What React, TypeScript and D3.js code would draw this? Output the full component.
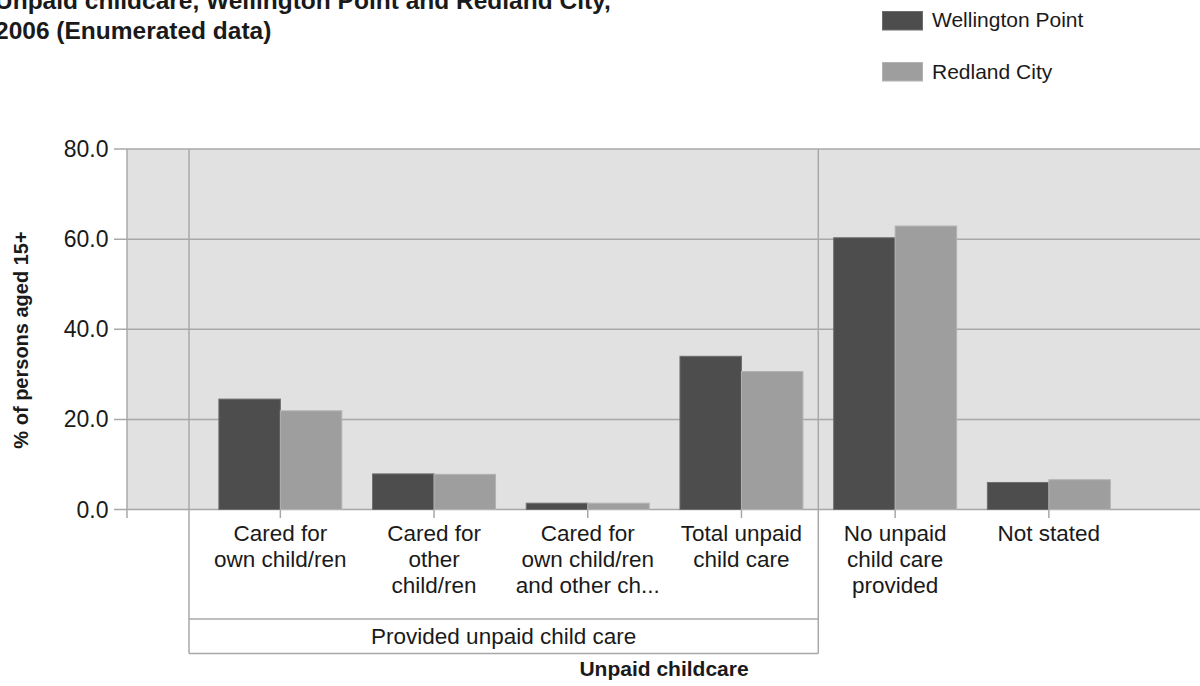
import React from "react";
import * as d3 from "d3";

const categories = [
  "Cared for own child/ren",
  "Cared for other child/ren",
  "Cared for own child/ren and other ch...",
  "Total unpaid child care",
  "No unpaid child care provided",
  "Not stated",
];
const categoryLines = [
  ["Cared for", "own child/ren"],
  ["Cared for", "other", "child/ren"],
  ["Cared for", "own child/ren", "and other ch..."],
  ["Total unpaid", "child care"],
  ["No unpaid", "child care", "provided"],
  ["Not stated"],
];
const seriesNames = ["Wellington Point", "Redland City"];
const wellingtonPoint = [24.5, 7.9, 1.4, 34.0, 60.3, 6.0];
const redlandCity = [21.9, 7.8, 1.4, 30.6, 62.9, 6.6];
const yTicks = [0, 20, 40, 60, 80];
const groupLabel = "Provided unpaid child care";
const groupCount = 4;

const W = 1200;
const H = 686;
const plotLeft = 127;
const plotRight = 1200;
const plotTop = 149;
const plotBottom = 509.5;
const groupLeft = 189;
const FONT = "'Liberation Sans', Arial, Helvetica, sans-serif";
const colors = ["#4d4d4d", "#9e9e9e"];
const strokes = ["#6e6e6e", "#b2b2b2"];
const gridColor = "#a8a8a8";
const textColor = "#1a1a1a";

export default function App() {
  const y = d3.scaleLinear().domain([0, 80]).range([plotBottom, plotTop]);
  const x = d3
    .scaleBand<string>()
    .domain(categories)
    .range([203.5, 1125.7])
    .paddingInner(0.2)
    .paddingOuter(0.1);
  const xs = d3
    .scaleBand<string>()
    .domain(seriesNames)
    .range([0, x.bandwidth()]);
  const series = [wellingtonPoint, redlandCity];
  const center = (c: string) => (x(c) as number) + x.bandwidth() / 2;
  const lastGroup = categories[groupCount - 1];
  const firstOther = categories[groupCount];
  const sepX = ((x(lastGroup) as number) + x.bandwidth() + (x(firstOther) as number)) / 2;
  const boxTop = 619;
  const boxBottom = 653.5;

  return (
    <svg
      width={W}
      height={H}
      style={{ position: "absolute", left: 0, top: 0, background: "#fff" }}
      fontFamily={FONT}
    >
      {/* Title */}
      <text x={-5} y={9} fontSize={24.5} fontWeight="bold" fill={textColor}>
        Unpaid childcare, Wellington Point and Redland City,
      </text>
      <text x={-5} y={39} fontSize={24.5} fontWeight="bold" fill={textColor}>
        2006 (Enumerated data)
      </text>

      {/* Legend */}
      {seriesNames.map((s, i) => (
        <g key={s}>
          <rect
            x={882.5}
            y={11.5 + i * 51}
            width={40}
            height={18.5}
            fill={colors[i]}
            stroke={strokes[i]}
          />
          <text x={932} y={27 + i * 51.5} fontSize={21} fill={textColor}>
            {s}
          </text>
        </g>
      ))}

      {/* Plot background */}
      <rect
        x={plotLeft}
        y={plotTop}
        width={plotRight - plotLeft}
        height={plotBottom - plotTop}
        fill="#e1e1e1"
      />

      {/* Gridlines & y ticks */}
      {yTicks.map((t) => (
        <g key={t}>
          <line
            x1={114}
            x2={plotRight}
            y1={y(t)}
            y2={y(t)}
            stroke={gridColor}
            strokeWidth={1.5}
          />
          <text
            x={108.5}
            y={y(t) + 8}
            fontSize={23}
            textAnchor="end"
            fill={textColor}
          >
            {t.toFixed(1)}
          </text>
        </g>
      ))}

      {/* Vertical lines */}
      <line x1={plotLeft} x2={plotLeft} y1={plotTop} y2={518} stroke={gridColor} strokeWidth={1.5} />
      <line x1={groupLeft} x2={groupLeft} y1={plotTop} y2={boxBottom} stroke={gridColor} strokeWidth={1.5} />
      <line x1={sepX} x2={sepX} y1={plotTop} y2={boxBottom} stroke={gridColor} strokeWidth={1.5} />

      {/* Bars */}
      {series.map((vals, si) =>
        categories.map((c, ci) => {
          const bx = (x(c) as number) + (xs(seriesNames[si]) as number);
          const by = y(vals[ci]);
          return (
            <rect
              key={`${si}-${ci}`}
              x={bx}
              y={by}
              width={xs.bandwidth()}
              height={plotBottom - by}
              fill={colors[si]}
              stroke={strokes[si]}
              strokeWidth={1}
            />
          );
        })
      )}

      {/* X ticks */}
      {categories.map((c) => (
        <line
          key={c}
          x1={center(c)}
          x2={center(c)}
          y1={plotBottom}
          y2={518}
          stroke={gridColor}
          strokeWidth={1.5}
        />
      ))}

      {/* Category labels */}
      {categories.map((c, ci) => (
        <text key={c} fontSize={22.5} textAnchor="middle" fill={textColor}>
          {categoryLines[ci].map((ln, li) => (
            <tspan key={li} x={center(c)} y={541 + li * 26}>
              {ln}
            </tspan>
          ))}
        </text>
      ))}

      {/* Group box */}
      <line x1={groupLeft} x2={sepX} y1={boxTop} y2={boxTop} stroke={gridColor} strokeWidth={1.5} />
      <line x1={groupLeft} x2={sepX} y1={boxBottom} y2={boxBottom} stroke={gridColor} strokeWidth={1.5} />
      <text
        x={(groupLeft + sepX) / 2}
        y={644}
        fontSize={22.5}
        textAnchor="middle"
        fill={textColor}
      >
        {groupLabel}
      </text>

      {/* Axis titles */}
      <text
        x={664}
        y={676}
        fontSize={21}
        fontWeight="bold"
        textAnchor="middle"
        fill={textColor}
      >
        Unpaid childcare
      </text>
      <text
        transform={`translate(27.5, 340) rotate(-90)`}
        fontSize={20}
        fontWeight="bold"
        textAnchor="middle"
        fill={textColor}
      >
        % of persons aged 15+
      </text>
    </svg>
  );
}
